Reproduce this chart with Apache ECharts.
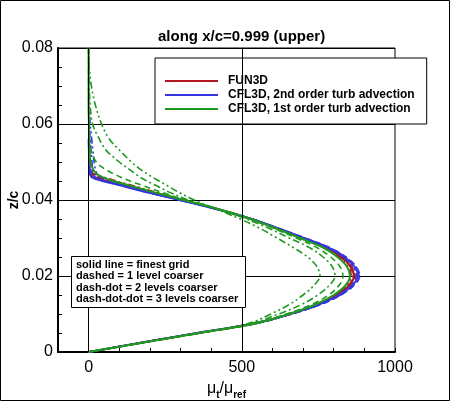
<!DOCTYPE html>
<html><head><meta charset="utf-8">
<script src="https://cdn.jsdelivr.net/npm/echarts@6/dist/echarts.min.js"></script>
<style>html,body{margin:0;padding:0;background:#fff}#c{width:450px;height:401px}</style>
</head><body><div id="c"></div>
<script>
// z/c stations (shared by all profiles)
const zc = [0, 0.0025, 0.005, 0.0075, 0.01, 0.0125, 0.015, 0.0175, 0.02, 0.0225, 0.025, 0.0275, 0.03, 0.0325, 0.035, 0.0375, 0.04, 0.042, 0.044, 0.045, 0.046, 0.047, 0.048, 0.05, 0.053, 0.056, 0.06, 0.065, 0.07, 0.075, 0.08];

// mu_t/mu_ref profiles: L0 = finest grid, L1..L3 = 1..3 levels coarser
const fun3d_L0 = [0,175,355,540,655,745,808,850,866,856,825,775,695,615,530,425,305,205,110,60,14,2];
const fun3d_L1 = [0,176,358,545,660,750,812,853,869,859,828,778,698,618,533,428,308,210,118,68,24,4];
const fun3d_L2 = [0,176,358,545,658,747,808,848,863,853,822,772,693,614,530,427,310,215,125,78,35,8];
const fun3d_L3 = [0,177,360,548,660,745,803,842,857,848,818,768,690,612,530,428,312,222,135,90,50,14,4];

const cfl2_L0 = [0,175,355,540,658,752,818,860,879,867,834,782,702,620,532,422,296,190,95,45,10,5,4,3,1,0];
const cfl2_L1 = [0,175,356,542,662,758,824,866,885,873,840,787,706,622,533,423,297,192,98,48,15,9,7,5,3,1];
const cfl2_L2 = [0,176,357,543,662,756,822,864,883,871,838,785,704,621,532,423,298,195,102,54,22,15,13,11,8,5,2];
const cfl2_L3 = [0,176,358,545,660,752,815,856,874,862,830,778,700,618,530,424,300,200,110,62,38,27,22,18,14,10,5,1];

const cfl1_L0 = [0,178,360,545,655,740,800,838,853,843,812,765,690,612,530,428,310,215,125,80,45,25,15,6,3,2,1,0,0,0,0];
const cfl1_L1 = [0,180,365,545,645,728,783,817,830,820,790,745,678,605,525,428,315,240,170,135,105,80,55,25,8,3,1,0,0,0,0];
const cfl1_L2 = [0,180,365,530,620,695,748,785,804,795,765,720,655,590,515,425,325,265,215,190,168,150,134,100,58,35,13,5,2,1,0];
const cfl1_L3 = [0,180,365,520,595,655,700,735,755,745,715,668,615,560,495,420,345,295,252,230,208,189,170,140,102,68,42,22,9,2,0];

const codeNames = ['FUN3D', 'CFL3D, 2nd order turb advection', 'CFL3D, 1st order turb advection'];
const levelNames = ['finest grid', '1 level coarser', '2 levels coarser', '3 levels coarser'];
const xTickLabels = [0, 500, 1000];
const xGridValues = [0, 500];
const noteLines = ['solid line = finest grid', 'dashed = 1 level coarser', 'dash-dot = 2 levels coarser', 'dash-dot-dot = 3 levels coarser'];

const colors = ['#b0161c', '#3636e0', '#1e9a1e'];
const dashes = ['solid', [6, 4], [7, 3, 2, 3], [7, 3, 2, 3, 2, 3]];
const FONT = 'Liberation Sans, Arial, Helvetica, sans-serif';

const profiles = [
  [fun3d_L0, fun3d_L1, fun3d_L2, fun3d_L3],
  [cfl2_L0, cfl2_L1, cfl2_L2, cfl2_L3],
  [cfl1_L0, cfl1_L1, cfl1_L2, cfl1_L3]
];

const series = [{
  type: 'line', name: 'gridlines', data: [], z: 1, silent: true,
  markLine: {
    symbol: 'none', silent: true, animation: false, label: {show: false},
    lineStyle: {color: '#000', width: 1, type: 'solid'},
    data: xGridValues.map(v => ({xAxis: v}))
  }
}];
profiles.forEach((set, c) => {
  for (let l = 3; l >= 0; l--) {
    const mu = set[l];
    series.push({
      type: 'line',
      name: l === 0 ? codeNames[c] : codeNames[c] + ' (' + levelNames[l] + ')',
      data: mu.map((m, i) => [m, zc[i]]),
      symbol: 'none', showSymbol: false, smooth: 0.35,
      lineStyle: {color: colors[c], width: l === 0 ? 2 : 1.6, type: dashes[l]},
      itemStyle: {color: colors[c]},
      z: 2 + c, silent: true
    });
  }
});

const chart = echarts.init(document.getElementById('c'), null, {renderer: 'canvas'});
chart.setOption({
  animation: false,
  backgroundColor: '#fff',
  textStyle: {fontFamily: FONT},
  title: [{
    text: 'along x/c=0.999 (upper)', left: 153, top: 24,
    textStyle: {fontFamily: FONT, fontSize: 15, fontWeight: 'bold', color: '#000'}
  }, {
    text: noteLines.join('\n'), left: 71, top: 256,
    backgroundColor: '#fff', borderColor: '#000', borderWidth: 1,
    padding: [3, 7, 3, 5],
    textStyle: {fontFamily: FONT, fontSize: 11, fontWeight: 'bold', color: '#000', lineHeight: 11.4}
  }],
  legend: {
    data: codeNames.map(n => ({name: n, icon: 'rect'})), orient: 'vertical', left: 155, top: 58,
    backgroundColor: '#fff', borderColor: '#000', borderWidth: 1, borderRadius: 0,
    padding: [16, 12, 8, 10], itemWidth: 53, itemHeight: 2, itemGap: 0,
    selectedMode: false,
    textStyle: {fontFamily: FONT, fontSize: 12, fontWeight: 'bold', color: '#000', lineHeight: 14, padding: [0, 0, 0, 5]}
  },
  grid: {left: 58, right: 55, top: 48, bottom: 49, containLabel: false, outerBoundsMode: 'none',
    show: true, borderColor: '#000', borderWidth: 1, backgroundColor: 'transparent'},
  xAxis: {
    type: 'value', min: -100, max: 1000, interval: 100,
    name: '{a|μ}{b|t}{a|/μ}{b|ref}', nameLocation: 'middle', nameGap: 20,
    nameTextStyle: {
      rich: {
        a: {fontFamily: FONT, fontSize: 16, lineHeight: 16, color: '#000', verticalAlign: 'top'},
        b: {fontFamily: FONT, fontSize: 10, fontWeight: 'bold', lineHeight: 10, padding: [9, 0, 0, 0], color: '#000', verticalAlign: 'top'}
      }
    },
    axisLine: {show: true, onZero: false, lineStyle: {color: '#000', width: 2}},
    axisTick: {show: true, inside: true, length: 4, lineStyle: {color: '#000', width: 1}},
    axisLabel: {
      fontFamily: FONT, fontSize: 16, color: '#000', margin: 8,
      formatter: v => xTickLabels.indexOf(Math.round(v)) >= 0 ? String(Math.round(v)) : ''
    },
    splitLine: {show: false}
  },
  yAxis: {
    type: 'value', min: 0, max: 0.08, interval: 0.02,
    name: 'z/c', nameLocation: 'middle', nameRotate: 90, nameGap: 37, nameMoveOverlap: false,
    nameTextStyle: {fontFamily: FONT, fontSize: 14, fontWeight: 'bold', color: '#000'},
    axisLine: {show: true, onZero: false, lineStyle: {color: '#000', width: 2}},
    axisTick: {show: true, inside: true, length: 7, lineStyle: {color: '#000', width: 1}},
    minorTick: {show: true, splitNumber: 4, length: 4, lineStyle: {color: '#000', width: 1}},
    axisLabel: {fontFamily: FONT, fontSize: 16, color: '#000', margin: 5},
    splitLine: {show: true, lineStyle: {color: '#000', width: 1}}
  },
  graphic: [{
    type: 'rect', shape: {x: 0.5, y: 0.5, width: 449, height: 400},
    style: {fill: 'none', stroke: '#000', lineWidth: 1}, silent: true, z: 100
  }],
  series: series
});
</script>
</body></html>
